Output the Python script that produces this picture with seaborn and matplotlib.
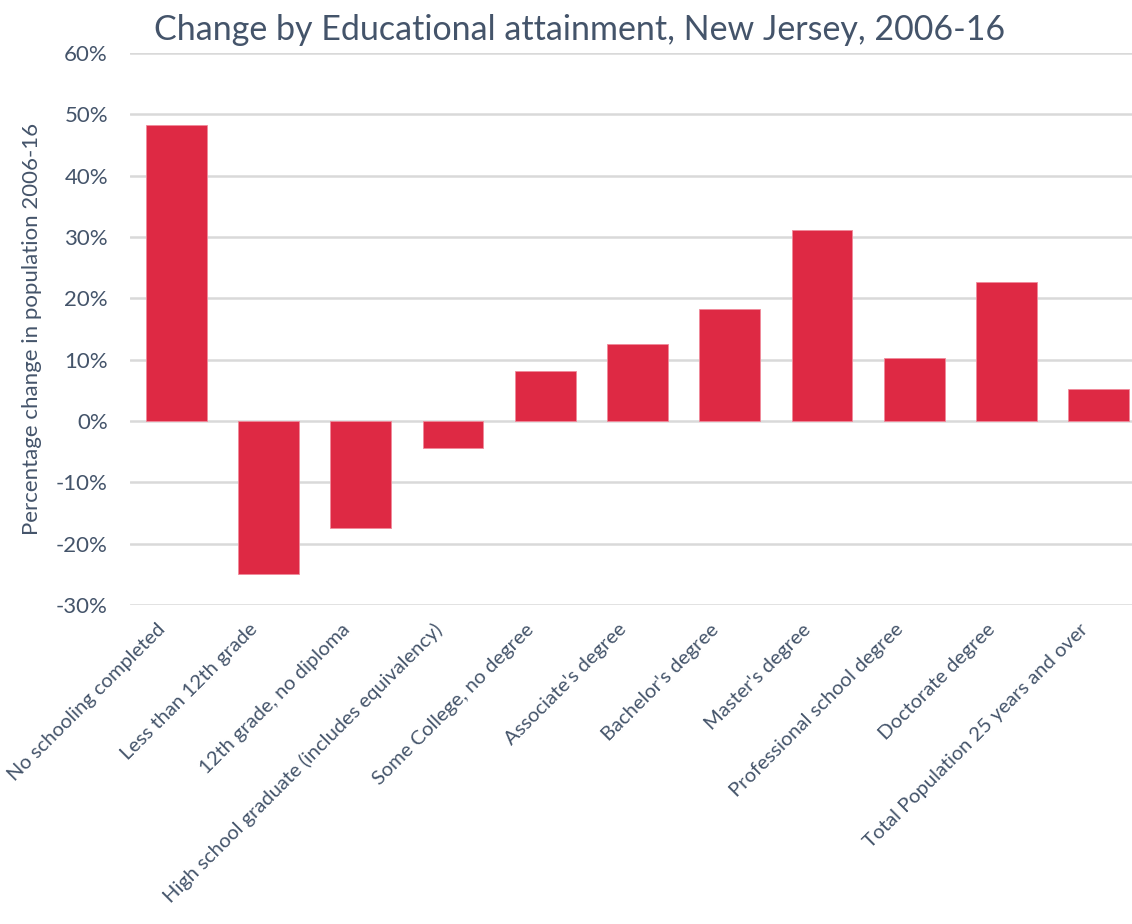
import matplotlib
matplotlib.use("Agg")
import pandas as pd
import matplotlib.pyplot as plt
import matplotlib.transforms as mtransforms
import seaborn as sns
from matplotlib.ticker import FuncFormatter

# Change by educational attainment, New Jersey, 2006-16
categories = [
    "No schooling completed",
    "Less than 12th grade",
    "12th grade, no diploma",
    "High school graduate (includes equivalency)",
    "Some College, no degree",
    "Associate's degree",
    "Bachelor's degree",
    "Master's degree",
    "Professional school degree",
    "Doctorate degree",
    "Total Population 25 years and over",
]
pct_change = [48.2, -25.0, -17.5, -4.4, 8.1, 12.5, 18.2, 31.2, 10.2, 22.6, 5.2]

TEXT = "#44546A"
BAR = "#DE2944"
GRID = "#D9D9D9"

sns.set_theme(style="white")
plt.rcParams["font.family"] = ["Lato", "DejaVu Sans"]

df = pd.DataFrame({"category": categories, "change": pct_change})

fig = plt.figure(figsize=(11.32, 9.24), dpi=100)
ax = fig.add_axes([0.115, 0.3452, 0.885, 0.5974])

sns.barplot(data=df, x="category", y="change", color=BAR, saturation=1,
            width=0.66, edgecolor="#F08A9A", linewidth=0.6, ax=ax, zorder=3)

ax.set_ylim(-30, 60)
ax.set_yticks(range(-30, 61, 10))
ax.yaxis.set_major_formatter(FuncFormatter(lambda v, p: f"{int(v)}%"))
ax.set_xlim(-0.5, 10.36)
ax.grid(axis="y", color=GRID, linewidth=1.8, zorder=0)
ax.grid(axis="x", visible=False)
for s in ax.spines.values():
    s.set_visible(False)

ax.tick_params(axis="y", labelsize=16, colors=TEXT, length=0, pad=16)
ax.tick_params(axis="x", labelsize=14.5, colors=TEXT, length=0, pad=4)

# nudge the rotated labels down-left like the original
shift = mtransforms.ScaledTranslation(-20 / 100, -10 / 100, fig.dpi_scale_trans)
for lab in ax.get_xticklabels():
    lab.set_rotation(45)
    lab.set_ha("right")
    lab.set_rotation_mode("anchor")
    lab.set_transform(lab.get_transform() + shift)

ax.set_xlabel("")
ax.set_ylabel("Percentage change in population 2006-16", fontsize=16,
              color=TEXT, labelpad=10)

fig.text(0.512, 0.968, "Change by Educational attainment, New Jersey, 2006-16",
         ha="center", va="center", fontsize=24.5, color=TEXT)

fig.savefig("out.png", dpi=100)
